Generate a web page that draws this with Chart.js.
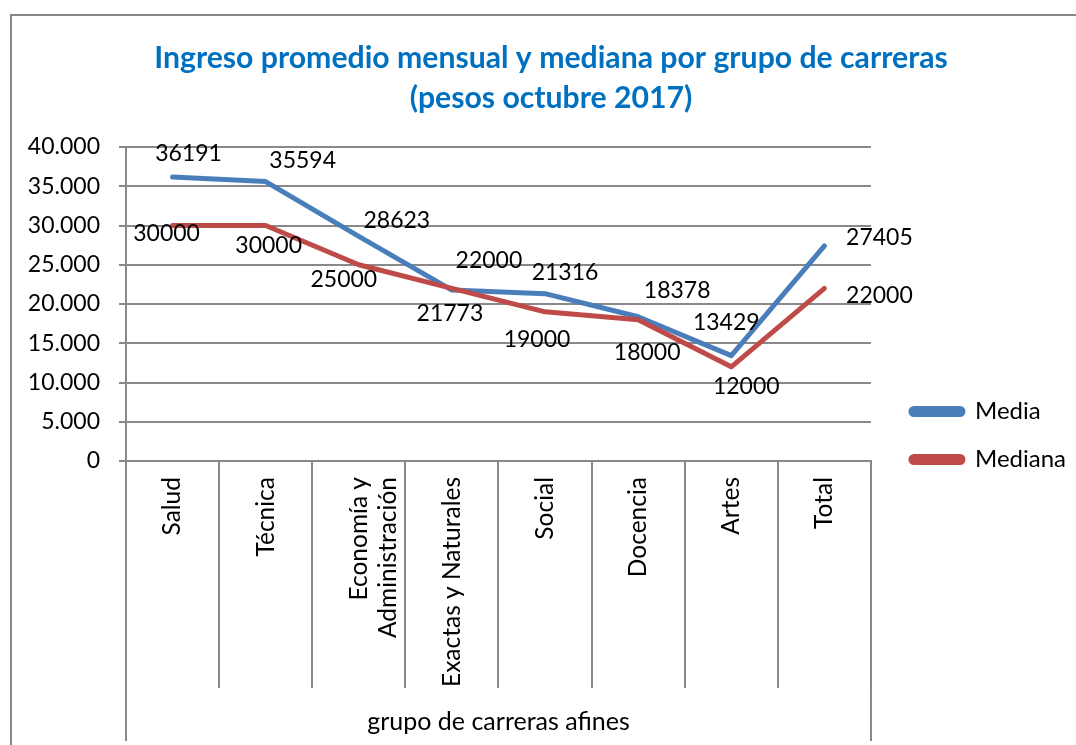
<!DOCTYPE html>
<html>
<head>
<meta charset="utf-8">
<script src="https://cdn.jsdelivr.net/npm/chart.js@4/dist/chart.umd.min.js"></script>
<style>
  html, body { margin: 0; padding: 0; background: #fff; }
  #frame { position: absolute; left: 10px; top: 14px; width: 1200px; height: 900px;
           border-left: 2px solid #878787; border-top: 2px solid #878787; }
  #chart { position: absolute; left: 0; top: 0; }
</style>
</head>
<body>
<div id="frame"></div>
<canvas id="chart" width="1076" height="745"></canvas>
<script>
const categories = ['Salud', 'Técnica', ['Economía y', 'Administración'], 'Exactas y Naturales',
  'Social', 'Docencia', 'Artes', 'Total'];
const media = [36191, 35594, 28623, 21773, 21316, 18378, 13429, 27405];
const mediana = [30000, 30000, 25000, 22000, 19000, 18000, 12000, 22000];
const yMin = 0;
const yMax = 40000;
const yStep = 5000;

// where each value label sits relative to its point (px)
const mediaLabelOffsets = [[16, -23], [37, -21], [38, -16], [-2, 23], [20, -21], [39, -26], [-5, -33], [55, -8]];
const medianaLabelOffsets = [[-6, 8], [3, 20], [-15, 15], [37, -28], [-8, 28], [9, 33], [15, 20], [55, 7]];

const GRID = '#898989';
const BLUE = '#4A7EBB';
const RED = '#BE4B48';
const FONT = 'Lato, "Open Sans", sans-serif';

Chart.defaults.font.family = FONT;
Chart.defaults.font.size = 23;
Chart.defaults.color = '#000';

const valueLabels = {
  id: 'valueLabels',
  afterDatasetsDraw(chart) {
    const ctx = chart.ctx;
    const offsets = [mediaLabelOffsets, medianaLabelOffsets];
    ctx.save();
    ctx.font = '23px ' + FONT;
    ctx.fillStyle = '#000';
    ctx.textAlign = 'center';
    ctx.textBaseline = 'middle';
    chart.data.datasets.forEach((ds, di) => {
      const meta = chart.getDatasetMeta(di);
      meta.data.forEach((pt, i) => {
        const [dx, dy] = offsets[di][i];
        ctx.fillText(String(ds.data[i]), pt.x + dx, pt.y + dy);
      });
    });
    ctx.restore();
  }
};

// long outer lines of the category box under the plot
const categoryBox = {
  id: 'categoryBox',
  afterDraw(chart) {
    const x = chart.scales.x;
    const ctx = chart.ctx;
    ctx.save();
    ctx.strokeStyle = GRID;
    ctx.lineWidth = 2;
    ctx.beginPath();
    [x.left, x.right].forEach(px => {
      ctx.moveTo(px, x.top);
      ctx.lineTo(px, 741);
    });
    ctx.stroke();
    ctx.restore();
  }
};

new Chart(document.getElementById('chart'), {
  type: 'line',
  data: {
    labels: categories,
    datasets: [
      {
        label: 'Media',
        data: media,
        borderColor: BLUE,
        backgroundColor: BLUE,
        order: 1,
      },
      {
        label: 'Mediana',
        data: mediana,
        borderColor: RED,
        backgroundColor: RED,
        order: 0,
      },
    ],
  },
  options: {
    responsive: false,
    animation: false,
    layout: { padding: { left: 26, right: 0, top: 0, bottom: 0 } },
    elements: {
      line: { borderWidth: 5, tension: 0, borderCapStyle: 'round', borderJoinStyle: 'round' },
      point: { radius: 0, hoverRadius: 0 },
    },
    datasets: { line: { clip: false } },
    plugins: {
      title: {
        display: true,
        text: ['Ingreso promedio mensual y mediana por grupo de carreras', '(pesos octubre 2017)'],
        color: '#0070C0',
        font: { size: 30.2, weight: 'bold', lineHeight: 40 / 30.2 },
        padding: { top: 38, bottom: 29 },
      },
      legend: {
        position: 'right',
        maxWidth: 300,
        title: { display: true, text: ' ', padding: { top: 96, bottom: 0 }, font: { size: 25 } },
        labels: {
          boxWidth: 52,
          boxHeight: 6,
          useBorderRadius: true,
          borderRadius: 3,
          padding: 24,
          font: { size: 24 },
          sort: (a, b) => a.datasetIndex - b.datasetIndex,
        },
      },
      tooltip: { enabled: false },
    },
    scales: {
      x: {
        offset: true,
        grid: {
          offset: true,
          drawOnChartArea: false,
          tickLength: 227,
          color: GRID,
          lineWidth: 2,
        },
        border: { color: GRID, width: 2 },
        ticks: {
          autoSkip: false,
          minRotation: 90,
          maxRotation: 90,
          padding: -211,
          font: { size: 24.5 },
        },
        title: {
          display: true,
          text: 'grupo de carreras afines',
          font: { size: 25 },
          padding: { top: 8, bottom: 8 },
        },
        afterFit(scale) { scale.height = 284; },
      },
      y: {
        min: yMin,
        max: yMax,
        ticks: {
          stepSize: yStep,
          padding: 19,
          callback: v => v.toLocaleString('de-DE'),
        },
        grid: { color: GRID, lineWidth: 2, tickLength: 7 },
        border: { color: GRID, width: 2 },
        afterFit(scale) { scale.width = 100; },
      },
      gap: {
        type: 'linear',
        position: 'right',
        display: true,
        grid: { display: false },
        ticks: { display: false },
        border: { display: false },
        afterFit(scale) { scale.width = 16; },
      },
    },
  },
  plugins: [valueLabels, categoryBox],
});
</script>
</body>
</html>
